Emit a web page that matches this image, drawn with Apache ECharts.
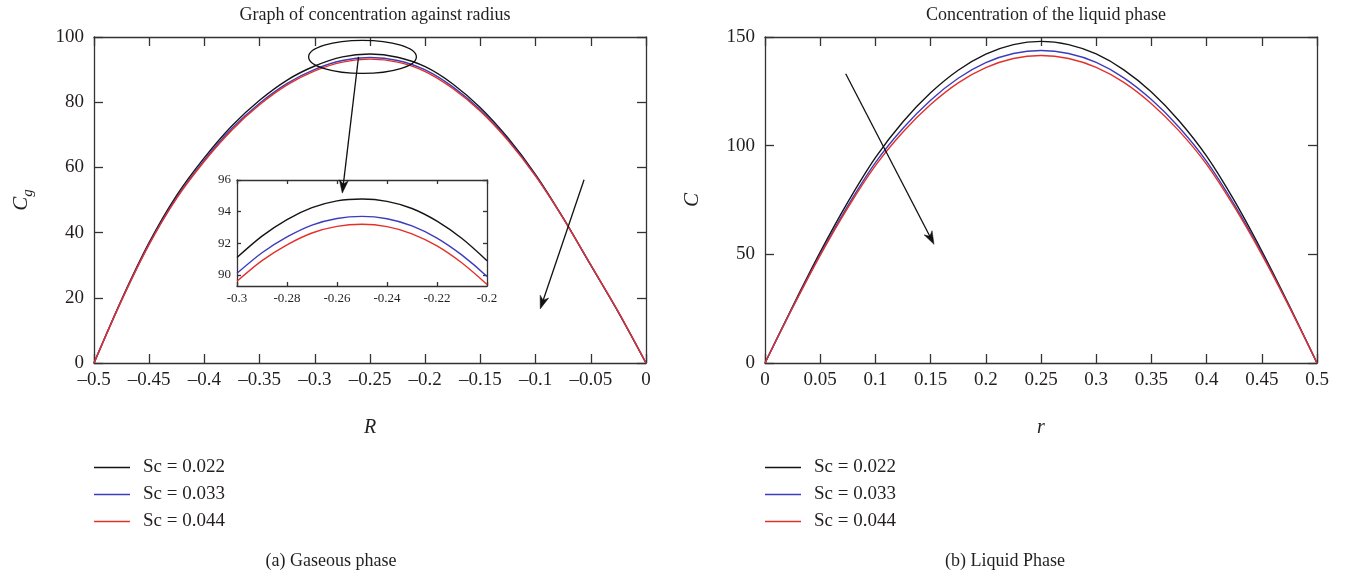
<!DOCTYPE html>
<html><head><meta charset="utf-8">
<script src="https://cdn.jsdelivr.net/npm/echarts@6/dist/echarts.min.js"></script>
<style>html,body{margin:0;padding:0;background:#fff}#c{width:1345px;height:576px}</style>
</head><body><div id="c"></div>
<script>
// ---------- data ----------
const seriesNames = ['Sc = 0.022', 'Sc = 0.033', 'Sc = 0.044'];

// (a) Gaseous phase, main plot
const gasR = [-0.5, -0.475, -0.45, -0.425, -0.4, -0.375, -0.35, -0.325, -0.3, -0.275, -0.25,
              -0.225, -0.2, -0.175, -0.15, -0.125, -0.1, -0.075, -0.05, -0.025, 0];
const gasSc022 = [0, 19.5, 37.0, 51.5, 63.0, 72.8, 80.6, 86.8, 91.1, 93.9, 94.8,
                  93.8, 90.9, 85.6, 78.3, 69.0, 57.8, 44.5, 30.0, 15.5, 0];
const gasSc033 = [0, 19.3, 36.6, 50.9, 62.3, 72.0, 79.7, 85.8, 90.1, 92.8, 93.7,
                  92.8, 89.9, 84.7, 77.6, 68.5, 57.5, 44.4, 30.0, 15.6, 0];
const gasSc044 = [0, 19.2, 36.4, 50.6, 61.9, 71.5, 79.2, 85.3, 89.6, 92.3, 93.2,
                  92.3, 89.4, 84.2, 77.2, 68.2, 57.3, 44.4, 30.1, 15.7, 0];

// (a) inset (zoom of the peak)
const insetR = [-0.3, -0.29, -0.28, -0.27, -0.26, -0.25, -0.24, -0.23, -0.22, -0.21, -0.2];
const insetSc022 = [91.1, 92.45, 93.5, 94.25, 94.68, 94.8, 94.65, 94.2, 93.4, 92.3, 90.9];
const insetSc033 = [90.1, 91.4, 92.4, 93.15, 93.57, 93.7, 93.55, 93.1, 92.33, 91.25, 89.9];
const insetSc044 = [89.6, 90.9, 91.9, 92.65, 93.07, 93.2, 93.05, 92.6, 91.83, 90.75, 89.4];
const insetYTicks = [90, 92, 94, 96];

// (b) Liquid phase
const liqR = [0, 0.025, 0.05, 0.075, 0.1, 0.125, 0.15, 0.175, 0.2, 0.225, 0.25,
              0.275, 0.3, 0.325, 0.35, 0.375, 0.4, 0.425, 0.45, 0.475, 0.5];
const liqSc022 = [0, 26.0, 51.0, 74.0, 94.5, 111.0, 124.3, 134.7, 142.1, 146.5, 148.0,
                  146.5, 142.2, 134.9, 124.7, 111.5, 95.2, 74.8, 51.5, 26.3, 0];
const liqSc033 = [0, 25.6, 50.0, 72.3, 92.2, 108.0, 120.9, 131.0, 138.2, 142.4, 143.8,
                  142.4, 138.3, 131.2, 121.2, 108.5, 92.8, 73.0, 50.5, 25.9, 0];
const liqSc044 = [0, 25.4, 49.5, 71.4, 90.8, 106.3, 118.9, 128.9, 135.9, 140.1, 141.5,
                  140.1, 136.0, 129.1, 119.3, 106.8, 91.4, 71.9, 49.9, 25.7, 0];

// annotations (data coordinates)
const gasEllipse = { x: -0.2568, y: 93.9, rx: 0.0488, ry: 5.07 };
const gasArrows = [
  { from: [-0.2604, 93.9], to: [-0.2751, 52.1] },
  { from: [-0.0561, 56.2], to: [-0.0958, 16.6] }
];
const liqArrows = [
  { from: [0.0731, 133.1], to: [0.1531, 54.6] }
];

// ---------- styling ----------
const FONT = "'Liberation Serif', 'DejaVu Serif', serif";
const TXT = '#231f20';
const colors = ['#151515', '#3c3cbc', '#e3312a'];
const AX = { color: '#333', width: 1.3 };

function pairs(xs, ys) { return xs.map((x, i) => [x, ys[i]]); }
function fmt(v) { return String(+(+v).toFixed(3)); }

function xAxis(grid, min, max, interval, opt) {
  const top = opt.top;
  return {
    type: 'value', gridIndex: grid, min, max, interval, position: top ? 'top' : 'bottom',
    axisLine: { show: true, onZero: false, lineStyle: AX },
    axisTick: { show: true, inside: true, length: opt.tick, lineStyle: AX },
    axisLabel: { show: !top, fontFamily: FONT, fontSize: opt.fs, color: TXT, margin: opt.margin,
                 formatter: opt.formatter },
    splitLine: { show: false },
    name: top ? '' : (opt.name || ''), nameLocation: 'middle', nameGap: opt.nameGap || 0,
    nameTextStyle: { fontFamily: FONT, fontSize: 20, fontStyle: 'italic', color: TXT }
  };
}
function yAxis(grid, min, max, interval, opt) {
  const right = opt.right;
  const ax = {
    type: 'value', gridIndex: grid, min, max, position: right ? 'right' : 'left',
    axisLine: { show: true, onZero: false, lineStyle: AX },
    axisTick: { show: true, inside: true, length: opt.tick, lineStyle: AX },
    axisLabel: { show: !right, fontFamily: FONT, fontSize: opt.fs, color: TXT, margin: opt.margin },
    splitLine: { show: false }
  };
  if (interval) ax.interval = interval;
  if (opt.custom) { ax.axisTick.customValues = opt.custom; ax.axisLabel.customValues = opt.custom; }
  if (!right && opt.name) {
    ax.name = opt.name; ax.nameLocation = 'middle'; ax.nameRotate = 90; ax.nameGap = opt.nameGap;
    ax.nameTextStyle = opt.nameTextStyle;
  }
  return ax;
}

const mainX = v => (+v === 0 ? '0' : fmt(v).replace('-', '\u2013'));

function legendAt(left) {
  return { orient: 'vertical', left, top: 458, padding: 0, icon: 'rect', itemWidth: 36, itemHeight: 1.6,
    itemGap: 8, selectedMode: false, data: seriesNames,
    textStyle: { fontFamily: FONT, fontSize: 19, color: TXT, padding: [0, 0, 0, 8] } };
}

const option = {
  backgroundColor: '#fff',
  animation: false,
  title: [
    { text: 'Graph of concentration against radius', left: 370, top: 1, textAlign: 'center',
      textStyle: { fontFamily: FONT, fontSize: 18, fontWeight: 'normal', color: TXT } },
    { text: 'Concentration of the liquid phase', left: 1041, top: 1, textAlign: 'center',
      textStyle: { fontFamily: FONT, fontSize: 18, fontWeight: 'normal', color: TXT } }
  ],
  grid: [
    { left: 94, top: 37, width: 552, height: 326 },
    { left: 765, top: 37, width: 552, height: 326 },
    { left: 237, top: 180, width: 250, height: 106, show: true, backgroundColor: '#fff', borderWidth: 0, z: 3 }
  ],
  xAxis: [
    xAxis(0, -0.5, 0, 0.05, { tick: 9, fs: 19, margin: 8, formatter: mainX, name: 'R', nameGap: 55 }),
    xAxis(0, -0.5, 0, 0.05, { top: true, tick: 9 }),
    xAxis(1, 0, 0.5, 0.05, { tick: 9, fs: 19, margin: 8, formatter: mainX, name: 'r', nameGap: 55 }),
    xAxis(1, 0, 0.5, 0.05, { top: true, tick: 9 }),
    Object.assign(xAxis(2, -0.3, -0.2, 0.02, { tick: 4, fs: 13, margin: 6, formatter: fmt }), { z: 4 }),
    Object.assign(xAxis(2, -0.3, -0.2, 0.02, { top: true, tick: 4 }), { z: 4 })
  ],
  yAxis: [
    yAxis(0, 0, 100, 20, { tick: 9, fs: 19, margin: 10, name: '{c|C}{g|g}', nameGap: 58,
      nameTextStyle: { fontFamily: FONT, color: TXT, rich: {
        c: { fontFamily: FONT, fontSize: 21, fontStyle: 'italic', color: TXT, lineHeight: 30, verticalAlign: 'middle' },
        g: { fontFamily: FONT, fontSize: 15, fontStyle: 'italic', color: TXT, lineHeight: 30, verticalAlign: 'bottom' } } } }),
    yAxis(0, 0, 100, 20, { right: true, tick: 9 }),
    yAxis(1, 0, 150, 50, { tick: 9, fs: 19, margin: 10, name: 'C', nameGap: 62,
      nameTextStyle: { fontFamily: FONT, fontSize: 21, fontStyle: 'italic', color: TXT } }),
    yAxis(1, 0, 150, 50, { right: true, tick: 9 }),
    Object.assign(yAxis(2, 89.3, 96, null, { tick: 4, fs: 13, margin: 6, custom: insetYTicks }), { z: 4 }),
    Object.assign(yAxis(2, 89.3, 96, null, { right: true, tick: 4, custom: insetYTicks }), { z: 4 })
  ],
  legend: [legendAt(94), legendAt(765)],
  series: []
};

const gasSets = [gasSc022, gasSc033, gasSc044];
const insetSets = [insetSc022, insetSc033, insetSc044];
const liqSets = [liqSc022, liqSc033, liqSc044];
seriesNames.forEach((name, i) => {
  const base = { type: 'line', name, symbol: 'none', showSymbol: false, smooth: 0.3, color: colors[i],
                 itemStyle: { color: colors[i] },
                 lineStyle: { color: colors[i], width: 1.4 }, z: 3 };
  option.series.push(Object.assign({}, base, { xAxisIndex: 0, yAxisIndex: 0, data: pairs(gasR, gasSets[i]) }));
  option.series.push(Object.assign({}, base, { xAxisIndex: 2, yAxisIndex: 2, data: pairs(liqR, liqSets[i]) }));
  option.series.push(Object.assign({}, base, { xAxisIndex: 4, yAxisIndex: 4, data: pairs(insetR, insetSets[i]),
                                                z: 5, clip: true }));
});

const chart = echarts.init(document.getElementById('c'), null, { renderer: 'canvas' });
chart.setOption(option);

// ---------- annotations & captions ----------
const gfx = [];
function arrowEls(grid, a) {
  const p0 = chart.convertToPixel({ gridIndex: grid }, a.from);
  const p1 = chart.convertToPixel({ gridIndex: grid }, a.to);
  const dx = p1[0] - p0[0], dy = p1[1] - p0[1], L = Math.hypot(dx, dy);
  const ux = dx / L, uy = dy / L, nx = -uy, ny = ux;
  const hl = 13, hw = 4.5;
  const bx = p1[0] - ux * hl, by = p1[1] - uy * hl;
  return [
    { type: 'line', z: 100, shape: { x1: p0[0], y1: p0[1], x2: p1[0] - ux * 6, y2: p1[1] - uy * 6 },
      style: { stroke: '#111', lineWidth: 1.3 } },
    { type: 'polygon', z: 100, shape: { points: [[p1[0], p1[1]], [bx + nx * hw, by + ny * hw],
        [p1[0] - ux * (hl * 0.7), p1[1] - uy * (hl * 0.7)], [bx - nx * hw, by - ny * hw]] },
      style: { fill: '#111', stroke: '#111', lineWidth: 0.5 } }
  ];
}
const ec = chart.convertToPixel({ gridIndex: 0 }, [gasEllipse.x, gasEllipse.y]);
const ee = chart.convertToPixel({ gridIndex: 0 }, [gasEllipse.x + gasEllipse.rx, gasEllipse.y + gasEllipse.ry]);
gfx.push({ type: 'ellipse', z: 100, shape: { cx: ec[0], cy: ec[1], rx: Math.abs(ee[0] - ec[0]), ry: Math.abs(ee[1] - ec[1]) },
           style: { fill: 'none', stroke: '#111', lineWidth: 1.3 } });
gasArrows.forEach(a => gfx.push(...arrowEls(0, a)));
liqArrows.forEach(a => gfx.push(...arrowEls(1, a)));
gfx.push({ type: 'text', z: 100, x: 331, y: 561,
  style: { text: '(a) Gaseous phase', font: '18px ' + FONT, fill: TXT, textAlign: 'center', textVerticalAlign: 'middle', verticalAlign: 'middle' } });
gfx.push({ type: 'text', z: 100, x: 1005, y: 561,
  style: { text: '(b) Liquid Phase', font: '18px ' + FONT, fill: TXT, textAlign: 'center', textVerticalAlign: 'middle', verticalAlign: 'middle' } });
chart.setOption({ graphic: gfx });
</script>
</body></html>
